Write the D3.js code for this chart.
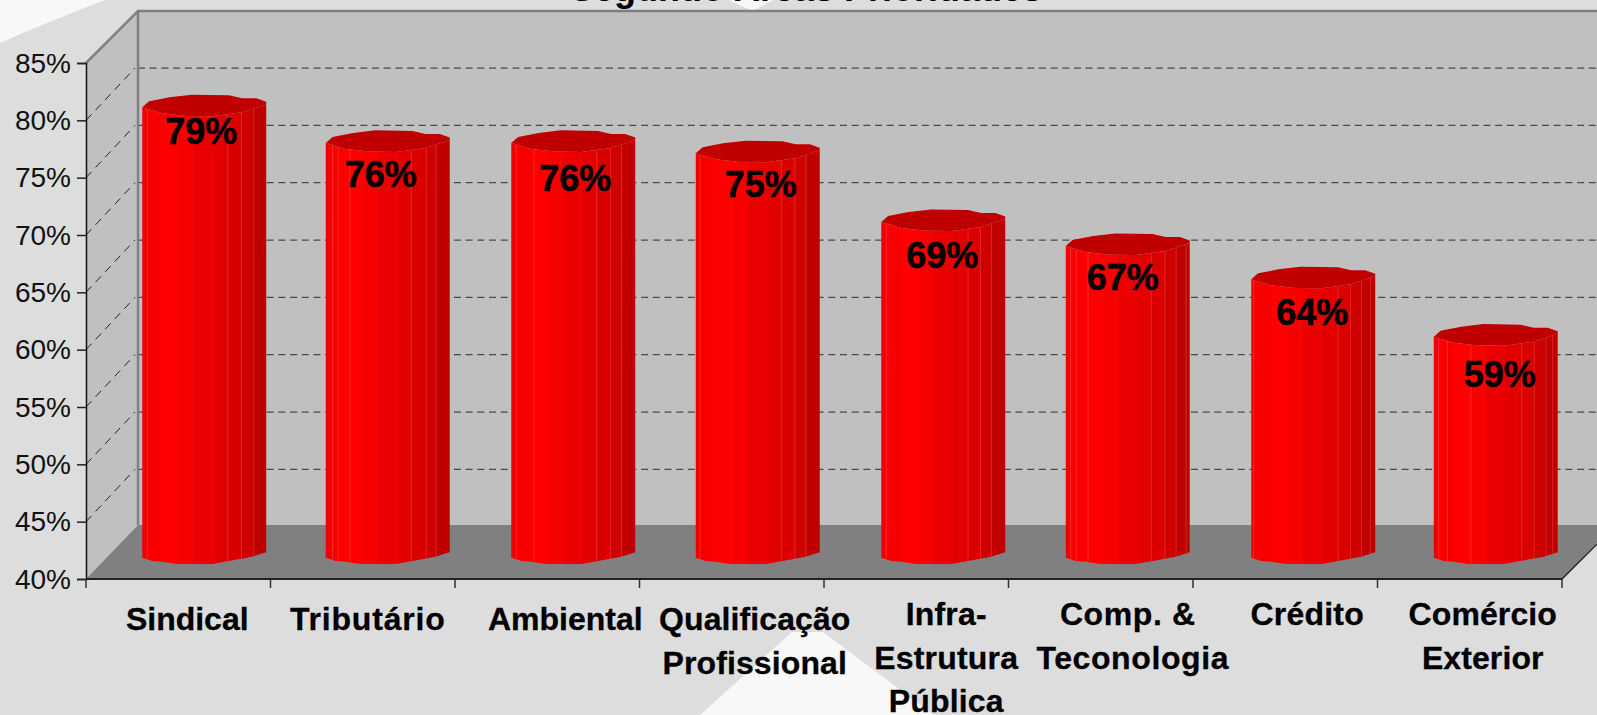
<!DOCTYPE html>
<html>
<head>
<meta charset="utf-8">
<script src="https://cdn.jsdelivr.net/npm/d3@7"></script>
<style>
    html, body { margin: 0; padding: 0; background: #dddddd; overflow: hidden; }
    svg { display: block; font-family: "Liberation Sans", Arial, sans-serif; }
</style>
</head>
<body>
<div id="chart"></div>
<script>
const titleText = 'Segundo Áreas Prioridades'
const categories = ['Sindical', 'Tributário', 'Ambiental', 'Qualificação|Profissional', 'Infra-|Estrutura|Pública', 'Comp. &|Teconologia', 'Crédito', 'Comércio|Exterior']
const values = [79.3, 76.2, 76.2, 75.3, 69.3, 67.2, 64.3, 59.3]
const yTicks = [40, 45, 50, 55, 60, 65, 70, 75, 80, 85]
const gridTicks = [45, 50, 55, 60, 65, 70, 75, 80]
// where the lighter facet edges sit across each cylinder, 0 = left, 1 = right
const facets = [
    [.04, .69, .80, .90],
    [.055, .10, .195, .69, .81, .89],
    [.04, .185, .69, .80, .89],
    [.035, .69, .80, .89],
    [.04, .70, .80, .89],
    [.04, .085, .18, .69, .80, .89, .97],
    [.02, .70, .80, .89, .96],
    [.04, .11, .30, .71, .81, .905, .96]
]
// value and category labels do not sit on the bar centres in the original
const barNudgeX = [-1, -2, -1, -1, 0, 0, 1, -1]
const labelNudgeX = [-3, -7, 2, 3, -1, -5, -1, 4]
const labelNudgeY = [40, 47, 51, 47, 49, 47, 49, 53]
const catNudgeX = [9, 5, 18, 23, 30, 29, 22, 13]
const catLineNudge = [[0], [0], [0], [0, 0], [0, 0, 0], [-2, 3], [0], [0, 0]]
const catSpacing = [0, .8, 0, .1, .2, .6, .2, .1]
const catBaseline = [630, 630, 630, 630, 625, 625, 625, 625]

const width = 1597
const height = 715
const depth = { x: 52, y: 54 }
const gridShift = 52.3
const plot = { left: 86, right: 1562, top: 63, bottom: 579 }

const x = d3.scaleBand().domain(categories).range([plot.left, plot.right])
const y = d3.scaleLinear().domain([40, 85]).range([plot.bottom, plot.top])

const svg = d3.select('#chart').append('svg')
    .attr('width', width).attr('height', height)

// slide background
svg.append('rect').attr('width', width).attr('height', height).attr('fill', '#dddddd')
const bgShapes = [
    'M0,43 Q45,23 105,0 L0,0 Z',
    'M792,632 L823,632 L934,715 L700,715 Z',
    'M728,0 L753,11 L773,0 Z'
]
svg.selectAll('.bg-shape').data(bgShapes).join('path')
    .attr('class', 'bg-shape').attr('d', d => d).attr('fill', '#f8f8f8')

// the title is cut by the top edge in the original too
svg.append('text')
    .attr('x', 570).attr('y', 1)
    .attr('font-size', 36).attr('font-weight', 'bold')
    .text(titleText)

// walls and floor
const backLeft = plot.left + depth.x
const backBottom = plot.bottom - depth.y
const backTop = plot.top - depth.y + 2
svg.append('rect')
    .attr('x', backLeft).attr('y', backTop)
    .attr('width', width - backLeft).attr('height', backBottom - backTop)
    .attr('fill', '#c0c0c0')
svg.append('path')
    .attr('d', `M${plot.left},${plot.top} L${backLeft},${backTop} L${backLeft},${backBottom} L${plot.left},${plot.bottom} Z`)
    .attr('fill', '#c0c0c0')
svg.append('path')
    .attr('d', `M${plot.left},${plot.bottom} L${backLeft},${backBottom} L${plot.right + depth.x},${backBottom} L${plot.right},${plot.bottom} Z`)
    .attr('fill', '#808080')

// grid
svg.selectAll('.grid-back').data(gridTicks).join('line')
    .attr('class', 'grid-back')
    .attr('x1', backLeft).attr('x2', width)
    .attr('y1', d => y(d) - gridShift).attr('y2', d => y(d) - gridShift)
    .attr('stroke', '#4a4a4a').attr('stroke-width', 1.3).attr('stroke-dasharray', '7 4.7')
svg.selectAll('.grid-side').data(gridTicks).join('line')
    .attr('class', 'grid-side')
    .attr('x1', plot.left).attr('y1', d => y(d))
    .attr('x2', backLeft - 3).attr('y2', d => y(d) - gridShift)
    .attr('stroke', '#222222').attr('stroke-width', 1).attr('stroke-dasharray', '8 6')

svg.append('path')
    .attr('d', `M${plot.left},${plot.top} L${backLeft},${backTop} L${width},${backTop} M${backLeft},${backTop} L${backLeft},${backBottom}`)
    .attr('fill', 'none').attr('stroke', '#808080').attr('stroke-width', 2.5)

// axes
const yAxis = d3.axisLeft(y).tickValues(yTicks).tickSize(9).tickPadding(6).tickFormat(d => d + '%')
const yG = svg.append('g').attr('transform', `translate(${plot.left},0)`).call(yAxis)
yG.selectAll('text').attr('font-size', 28).attr('fill', '#111111').attr('font-family', 'inherit')
    .attr('dy', null).attr('y', 9)
yG.selectAll('line').attr('stroke', '#222222').attr('stroke-width', 1.5)
yG.select('.domain').attr('stroke', '#111111').attr('stroke-width', 1.5)

svg.append('line')
    .attr('x1', plot.right).attr('y1', plot.bottom)
    .attr('x2', width).attr('y2', plot.bottom - (width - plot.right))
    .attr('stroke', '#222222').attr('stroke-width', 1.5)

const xTickPos = categories.map(d => x(d)).concat(plot.right)
svg.selectAll('.x-tick').data(xTickPos).join('line')
    .attr('class', 'x-tick')
    .attr('x1', d => d).attr('x2', d => d)
    .attr('y1', plot.bottom).attr('y2', plot.bottom + 9)
    .attr('stroke', '#333333').attr('stroke-width', 1.5)
svg.append('line')
    .attr('x1', plot.left).attr('x2', plot.right)
    .attr('y1', plot.bottom).attr('y2', plot.bottom)
    .attr('stroke', '#222222').attr('stroke-width', 2)

// stepped shading across a cylinder
const bands = [[0, '#f00000'], [.04, '#f80000'], [.15, '#ff0000'], [.30, '#f60000'], [.42, '#ea0000'], [.58, '#e20000'], [.69, '#da0000'], [.80, '#ce0000'], [.89, '#c00000']]
const gradient = svg.append('defs').append('linearGradient').attr('id', 'cyl')
bands.forEach((b, i) => {
    const end = i < bands.length - 1 ? bands[i + 1][0] : 1
    gradient.append('stop').attr('offset', b[0]).attr('stop-color', b[1])
    gradient.append('stop').attr('offset', end).attr('stop-color', b[1])
})

// rim outlines in px around the centre of a cylinder end, u runs -1..1 over the width
const barWidth = x.bandwidth() * .672
const barShiftX = 27
const barShiftY = 24
const topBack = [[-1, 3], [-.89, -3], [-.56, -7], [-.2, -9.6], [.4, -9], [.61, -6], [.84, -6], [1, -2.5]]
const topFront = [[-1, 3], [-.68, 9], [-.29, 11.7], [.13, 12], [.61, 8], [1, 0]]
const bottomFront = [[-1, 2.7], [-.84, 6], [-.68, 6.7], [-.44, 9], [.13, 9], [.4, 6], [.77, 1.7], [1, -2.7]]

const topFrontY = d3.scaleLinear().domain(topFront.map(d => d[0])).range(topFront.map(d => d[1]))
const bottomFrontY = d3.scaleLinear().domain(bottomFront.map(d => d[0])).range(bottomFront.map(d => d[1]))
const line = d3.line()

const bars = svg.selectAll('.bar').data(categories).join('g').attr('class', 'bar')
    .attr('transform', (d, i) => `translate(${x(d) + x.bandwidth() / 2 + barShiftX + barNudgeX[i]},0)`)

bars.append('path')
    .attr('d', (d, i) => {
        const yTop = y(values[i]) - barShiftY
        const yBase = y(40) - barShiftY
        const pts = topFront.map(p => [p[0] * barWidth / 2, yTop + p[1]])
            .concat(bottomFront.slice().reverse().map(p => [p[0] * barWidth / 2, yBase + p[1]]))
        return line(pts) + 'Z'
    })
    .attr('fill', 'url(#cyl)')

bars.each(function (d, i) {
    const yTop = y(values[i]) - barShiftY
    const yBase = y(40) - barShiftY
    d3.select(this).selectAll('line').data(facets[i]).join('line')
        .attr('x1', f => (f * 2 - 1) * barWidth / 2).attr('x2', f => (f * 2 - 1) * barWidth / 2)
        .attr('y1', f => yTop + topFrontY(f * 2 - 1))
        .attr('y2', f => yBase + bottomFrontY(f * 2 - 1))
        .attr('stroke', '#ff7070').attr('stroke-opacity', .35).attr('stroke-width', 1)
})

bars.append('path')
    .attr('d', (d, i) => {
        const yTop = y(values[i]) - barShiftY
        const pts = topBack.concat(topFront.slice().reverse())
            .map(p => [p[0] * barWidth / 2, yTop + p[1]])
        return line(pts) + 'Z'
    })
    .attr('fill', '#c00000')

bars.append('text')
    .attr('x', (d, i) => labelNudgeX[i])
    .attr('y', (d, i) => y(values[i]) - barShiftY + labelNudgeY[i])
    .attr('text-anchor', 'middle')
    .attr('font-size', 36).attr('font-weight', 'bold')
    .attr('stroke', '#000000').attr('stroke-width', .5)
    .text((d, i) => d3.format('.0f')(values[i]) + '%')

// category labels
const catLabels = svg.selectAll('.cat').data(categories).join('text').attr('class', 'cat')
    .attr('text-anchor', 'middle')
    .attr('font-size', 32).attr('font-weight', 'bold')
    .attr('stroke', '#000000').attr('stroke-width', .3)
    .attr('letter-spacing', (d, i) => catSpacing[i])
catLabels.each(function (d, i) {
    d3.select(this).selectAll('tspan').data(d.split('|')).join('tspan')
        .attr('x', (t, j) => x(d) + x.bandwidth() / 2 + catNudgeX[i] + catLineNudge[i][j])
        .attr('y', (t, j) => catBaseline[i] + j * 43.5)
        .text(t => t)
})
</script>
</body>
</html>
